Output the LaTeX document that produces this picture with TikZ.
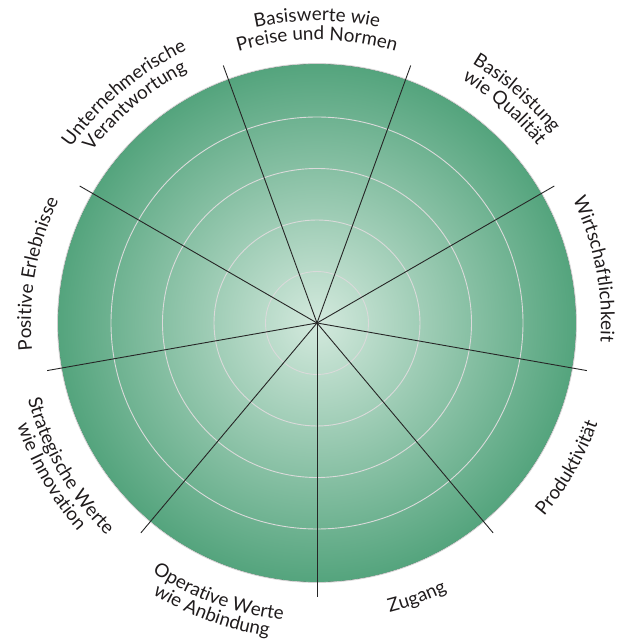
\documentclass[tikz,border=0pt]{standalone}
\usepackage{fontspec}
\setmainfont{Lato}
\usetikzlibrary{decorations.text}
\definecolor{edgegreen}{HTML}{54A47D}
\definecolor{centergreen}{HTML}{D3E9DD}
\definecolor{ringgray}{HTML}{DADADA}
\definecolor{labelink}{HTML}{1F1B1C}
\newcommand\lblfont{\fontsize{18.8}{20}\selectfont\color{labelink}}
% top half: clockwise, letters upright outward
\newcommand\cwlabel[3]{%
  \path[decorate, decoration={text along path, text align=center,
        text={|\lblfont|#3}}]
    ({#1+70}:#2pt) arc[start angle={#1+70}, end angle={#1-70}, radius=#2pt];}
% bottom half: counter-clockwise, letters upright inward
\newcommand\ccwlabel[3]{%
  \path[decorate, decoration={text along path, text align=center,
        text={|\lblfont|#3}}]
    ({#1-70}:#2pt) arc[start angle={#1-70}, end angle={#1+70}, radius=#2pt];}
\begin{document}
\begin{tikzpicture}[x=1pt,y=1pt,
  spoke/.style={draw=black!85, line width=0.9pt},
  ring/.style={draw=ringgray, line width=0.9pt},
  rim/.style={draw=gray!35, line width=0.8pt}]
\useasboundingbox (-317,-321) rectangle (304,323);
\coordinate (O) at (0,0);
\fill[shading=radial, inner color=centergreen, outer color=edgegreen] (O) circle[radius=259pt];
\draw[rim] (O) circle[radius=259.5pt];
\foreach \r in {51.5,103,154.5,206} \draw[ring] (O) circle[radius=\r pt];
\foreach \a in {30,70,...,350} {
  \coordinate (s\a) at (\a:274pt);
  \draw[spoke] (O) -- (s\a);
}
% labels
\cwlabel{90}{302}{Basiswerte wie}
\cwlabel{90}{283}{Preise und Normen}
\cwlabel{49}{302}{Basisleistung}
\cwlabel{49}{283}{wie Qualität}
\cwlabel{11}{284}{Wirtschaftlichkeit}
\cwlabel{170}{286}{Positive Erlebnisse}
\cwlabel{130}{302}{Unternehmerische}
\cwlabel{130}{283}{Verantwortung}
\ccwlabel{-30}{298}{Produktivität}
\ccwlabel{-70}{298}{Zugang}
\ccwlabel{-110}{299}{Operative Werte}
\ccwlabel{-110}{317}{wie Anbindung}
\ccwlabel{-150}{299}{Strategische Werte}
\ccwlabel{-150}{317}{wie Innovation}
\end{tikzpicture}
\end{document}
